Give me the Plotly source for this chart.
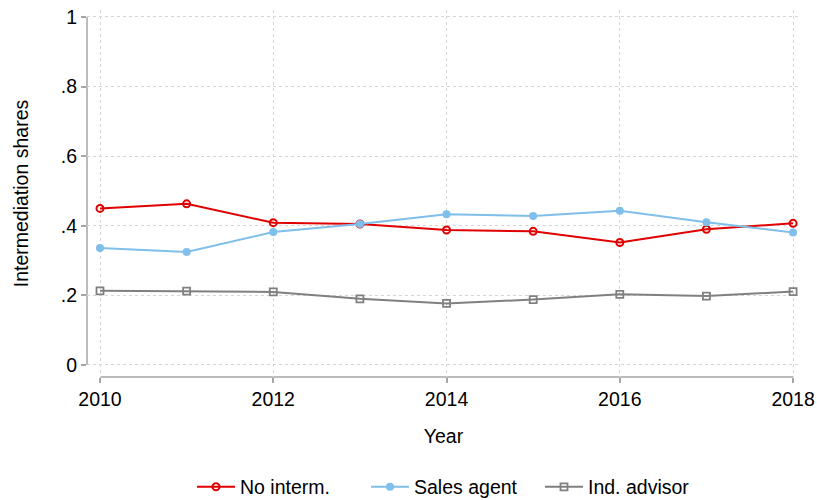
import plotly.graph_objects as go

years = [2010, 2011, 2012, 2013, 2014, 2015, 2016, 2017, 2018]
no_interm = [0.450, 0.463, 0.409, 0.405, 0.388, 0.384, 0.352, 0.390, 0.407]
sales_agent = [0.336, 0.325, 0.382, 0.405, 0.433, 0.428, 0.443, 0.410, 0.381]
ind_advisor = [0.213, 0.212, 0.210, 0.190, 0.177, 0.188, 0.203, 0.198, 0.211]

x_ticks = [2010, 2012, 2014, 2016, 2018]
y_ticks = [0, 0.2, 0.4, 0.6, 0.8, 1]
y_labels = ["0", ".2", ".4", ".6", ".8", "1"]

FONT = "Liberation Sans, Arial, Helvetica, sans-serif"
FS = 19.5
AX = "#a6a6a6"
GRID = "#d6d6d6"

fig = go.Figure()
fig.add_trace(go.Scatter(
    x=years, y=no_interm, name="No interm.", mode="lines+markers",
    line=dict(color="#e00000", width=2),
    marker=dict(symbol="circle-open", size=7, color="#e00000", line=dict(width=2)),
))
fig.add_trace(go.Scatter(
    x=years, y=sales_agent, name="Sales agent", mode="lines+markers",
    line=dict(color="#7fbfea", width=2),
    marker=dict(symbol="circle", size=8, color="#7fbfea"),
))
fig.add_trace(go.Scatter(
    x=years, y=ind_advisor, name="Ind. advisor", mode="lines+markers",
    line=dict(color="#808080", width=2),
    marker=dict(symbol="square-open", size=7, color="#808080", line=dict(width=1.8)),
))

# Stata-style axis lines spanning only the tick range
fig.add_shape(type="line", xref="paper", yref="y", x0=0, x1=0, y0=0, y1=1,
              line=dict(color=AX, width=1.5), layer="below")
fig.add_shape(type="line", xref="x", yref="paper", x0=2010, x1=2018, y0=0, y1=0,
              line=dict(color=AX, width=1.5), layer="below")

fig.update_layout(
    width=817, height=500,
    margin=dict(l=87, r=17, t=10, b=123, autoexpand=False),
    paper_bgcolor="white", plot_bgcolor="white",
    font=dict(family=FONT, size=FS, color="black"),
    showlegend=True,
    legend=dict(orientation="h", x=(192 - 87) / 713, xanchor="left", y=-0.30,
                yanchor="middle", font=dict(size=FS), tracegroupgap=0,
                itemwidth=38, entrywidth=121, entrywidthmode="pixels"),
)
fig.update_xaxes(
    range=[2009.85, 2018.08], tickvals=x_ticks, showline=False, zeroline=False,
    automargin=False,
    showgrid=True, gridcolor=GRID, griddash="dot", gridwidth=1,
    ticks="outside", ticklen=5, tickcolor=AX, tickwidth=1.5,
    title=dict(text="Year", standoff=19, font=dict(size=FS)),
    tickfont=dict(size=FS),
)
fig.update_yaxes(
    range=[-0.0345, 1.02], tickvals=y_ticks, ticktext=y_labels, showline=False,
    automargin=False,
    zeroline=False, showgrid=True, gridcolor=GRID, griddash="dot", gridwidth=1,
    ticks="outside", ticklen=5, tickcolor=AX, tickwidth=1.5,
    title=dict(text="Intermediation shares", standoff=27, font=dict(size=FS)),
    tickfont=dict(size=FS),
)

fig.write_html("out.html", config={"displayModeBar": False},
               post_script="document.body.style.margin='0px';")
